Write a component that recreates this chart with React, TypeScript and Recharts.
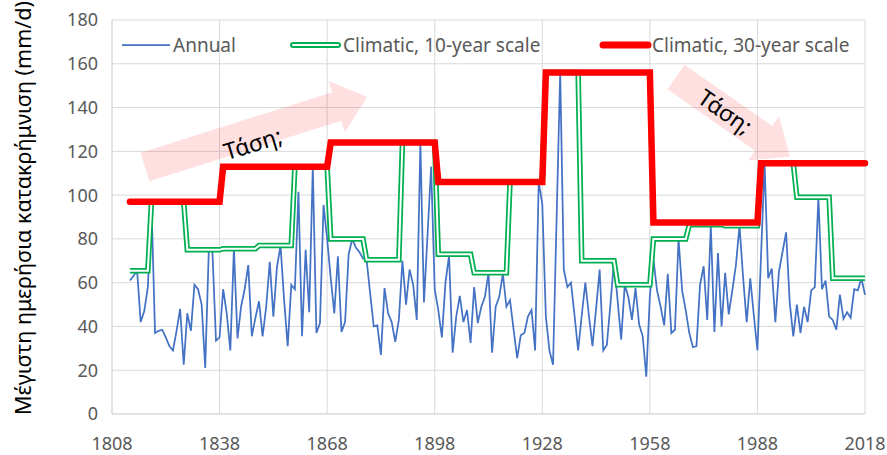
import React from "react";
import { LineChart, Line, XAxis, YAxis, CartesianGrid, Legend } from "recharts";

const FONT = "'Noto Sans', sans-serif";

// annual maximum daily rainfall, one value per year starting in 1813
const firstYear = 1813;
const annualMax = [
  61, 63, 65.5, 42, 47, 58, 97,
  37, 38, 38.5, 35, 31, 29, 38, 48, 22.5, 46,
  38, 59, 57, 50, 21, 75, 74.5, 33.5, 35, 57,
  46, 29, 75.5, 34.5, 49, 57, 68, 35.5, 44, 51.5,
  35.5, 49, 69.5, 44.5, 67, 77, 52, 31, 59, 57,
  101.5, 35.5, 75, 46.5, 113, 37, 41.5, 95.5, 80, 62,
  46, 72, 37.5, 42, 73, 80, 76, 74, 71, 70.5,
  55, 40, 40.5, 27, 57.5, 46, 42, 33, 43, 70,
  50, 66, 59, 43, 124, 51, 82, 113, 57, 47.5,
  35, 60, 72.5, 28, 44.5, 54, 42, 47.5, 32.5, 58,
  41.5, 49, 53.5, 64.5, 28, 49, 53.5, 64, 49, 52,
  38.5, 25.5, 36, 37, 44.5, 47.5, 29, 106, 96, 44.5,
  29, 22.5, 90, 156, 66, 58, 60, 45, 29, 45,
  60, 45, 31, 48, 66, 29, 31.5, 50, 70, 52,
  34, 59, 53.5, 43, 57.5, 41, 35.5, 17, 54, 70.5,
  56.5, 49, 40.5, 64, 37, 38.5, 80, 56.5, 47.5, 37,
  30.5, 31, 59, 67.5, 43, 86, 37.5, 73.5, 40, 64.5,
  45.5, 56.5, 68, 86, 62.5, 42, 62, 45, 29, 72,
  114.5, 62, 66.5, 42, 65, 74, 83, 51, 35.5, 50,
  37, 49, 42, 56.5, 58, 99, 57, 61, 44.5, 43,
  38.5, 54.5, 43.5, 46.5, 44, 57, 56.5, 62, 54.5,
];

// climatic maxima (10-year blocks)
const tenYearStarts = [1813, 1819, 1829, 1839, 1849, 1859, 1869, 1879, 1889, 1899, 1909, 1919, 1929, 1939, 1949, 1959, 1969, 1979, 1989, 1999, 2009];
const tenYearMax = [65.5, 97, 75, 75.5, 77, 113, 80, 70.5, 124, 73, 64.5, 106, 156, 70, 59, 80, 86.5, 86, 114.5, 99, 62];

// climatic maxima (30-year blocks)
const thirtyYearStarts = [1813, 1839, 1869, 1899, 1929, 1959, 1989];
const thirtyYearMax = [97, 113, 124, 106, 156, 87.5, 114.5];

const xTicks = [1808, 1838, 1868, 1898, 1928, 1958, 1988, 2018];
const yTicks = [0, 20, 40, 60, 80, 100, 120, 140, 160, 180];

function blockValue(starts: number[], values: number[], year: number) {
  let v = values[0];
  starts.forEach((s, i) => {
    if (year >= s) v = values[i];
  });
  return v;
}

const data = annualMax.map((v, i) => {
  const year = firstYear + i;
  return {
    year,
    annual: v,
    climatic10: blockValue(tenYearStarts, tenYearMax, year),
    climatic30: blockValue(thirtyYearStarts, thirtyYearMax, year),
  };
});

const renderLegend = () => (
  <div style={{ position: "relative", height: 26, fontFamily: FONT, fontSize: 19, lineHeight: "26px", color: "#595959" }}>
    <svg style={{ position: "absolute", left: 0, top: 0 }} width={887} height={26}>
      <line x1={122} x2={170} y1={13} y2={13} stroke="#4472C4" strokeWidth={1.75} />
      <line x1={293} x2={338} y1={13} y2={13} stroke="#00B050" strokeWidth={6} strokeLinecap="round" />
      <line x1={293} x2={338} y1={13} y2={13} stroke="#fff" strokeWidth={2} strokeLinecap="round" />
      <line x1={603} x2={648} y1={13} y2={13} stroke="#FF0000" strokeWidth={7} strokeLinecap="round" />
    </svg>
    <span style={{ position: "absolute", left: 173, top: 0, whiteSpace: "nowrap" }}>Annual</span>
    <span style={{ position: "absolute", left: 343, top: 0, whiteSpace: "nowrap" }}>Climatic, 10-year scale</span>
    <span style={{ position: "absolute", left: 652, top: 0, whiteSpace: "nowrap" }}>Climatic, 30-year scale</span>
  </div>
);

const Arrow = ({ x, y, length, angle }: { x: number; y: number; length: number; angle: number }) => {
  const h = 32;
  const pts = [
    [0, -15], [length - h, -15], [length - h, -27], [length, 0],
    [length - h, 27], [length - h, 15], [0, 15],
  ].map((p) => p.join(",")).join(" ");
  return <polygon points={pts} fill="#FF0000" fillOpacity={0.12} transform={`translate(${x},${y}) rotate(${angle})`} />;
};

export default function App() {
  return (
    <div style={{ position: "absolute", left: 0, top: 0, width: 887, height: 455, background: "#fff" }}>
      <LineChart width={887} height={455} data={data} margin={{ top: 20, right: 22, left: 52, bottom: 0 }}>
        <CartesianGrid stroke="#D9D9D9" strokeWidth={1} />
        <XAxis
          dataKey="year"
          type="number"
          domain={[1808, 2018]}
          ticks={xTicks}
          interval={0}
          height={41}
          tickSize={0}
          tickMargin={23}
          tickLine={false}
          axisLine={{ stroke: "#D9D9D9" }}
          tick={{ fill: "#595959", fontSize: 18, fontFamily: FONT }}
        />
        <YAxis
          type="number"
          domain={[0, 180]}
          ticks={yTicks}
          interval={0}
          width={60}
          tickSize={0}
          tickMargin={14}
          tickLine={false}
          axisLine={{ stroke: "#D9D9D9" }}
          tick={{ fill: "#595959", fontSize: 18, fontFamily: FONT }}
        />
        <Legend verticalAlign="middle" align="center" wrapperStyle={{ top: 32, left: 0, width: 887 }} content={renderLegend} />
        <Line type="linear" dataKey="annual" name="Annual" stroke="#4472C4" strokeWidth={1.75} dot={false} activeDot={false} isAnimationActive={false} />
        <Line type="linear" dataKey="climatic10" name="Climatic, 10-year scale" stroke="#00B050" strokeWidth={5.5} dot={false} activeDot={false} isAnimationActive={false} />
        <Line type="linear" dataKey="climatic10" name="inner" legendType="none" stroke="#FFFFFF" strokeWidth={2} dot={false} activeDot={false} isAnimationActive={false} />
        <Line type="linear" dataKey="climatic30" name="Climatic, 30-year scale" stroke="#FF0000" strokeWidth={6.5} strokeLinecap="round" dot={false} activeDot={false} isAnimationActive={false} />
      </LineChart>
      <svg width={887} height={455} style={{ position: "absolute", left: 0, top: 0, pointerEvents: "none" }}>
        <Arrow x={145} y={167} length={233} angle={-17.5} />
        <Arrow x={676} y={77} length={139} angle={35} />
        <text x={253} y={152} fontFamily={FONT} fontSize={23} fill="#000" textAnchor="middle" transform="rotate(-17 253 144)">Τάση;</text>
        <text x={725} y={120} fontFamily={FONT} fontSize={23} fill="#000" textAnchor="middle" transform="rotate(35 725 112)">Τάση;</text>
        <text x={22} y={208} fontFamily={FONT} fontSize={21.5} fill="#000" textAnchor="middle" dominantBaseline="central" transform="rotate(-90 22 208)">
          Μέγιστη ημερήσια κατακρήμνιση (mm/d)
        </text>
      </svg>
    </div>
  );
}
